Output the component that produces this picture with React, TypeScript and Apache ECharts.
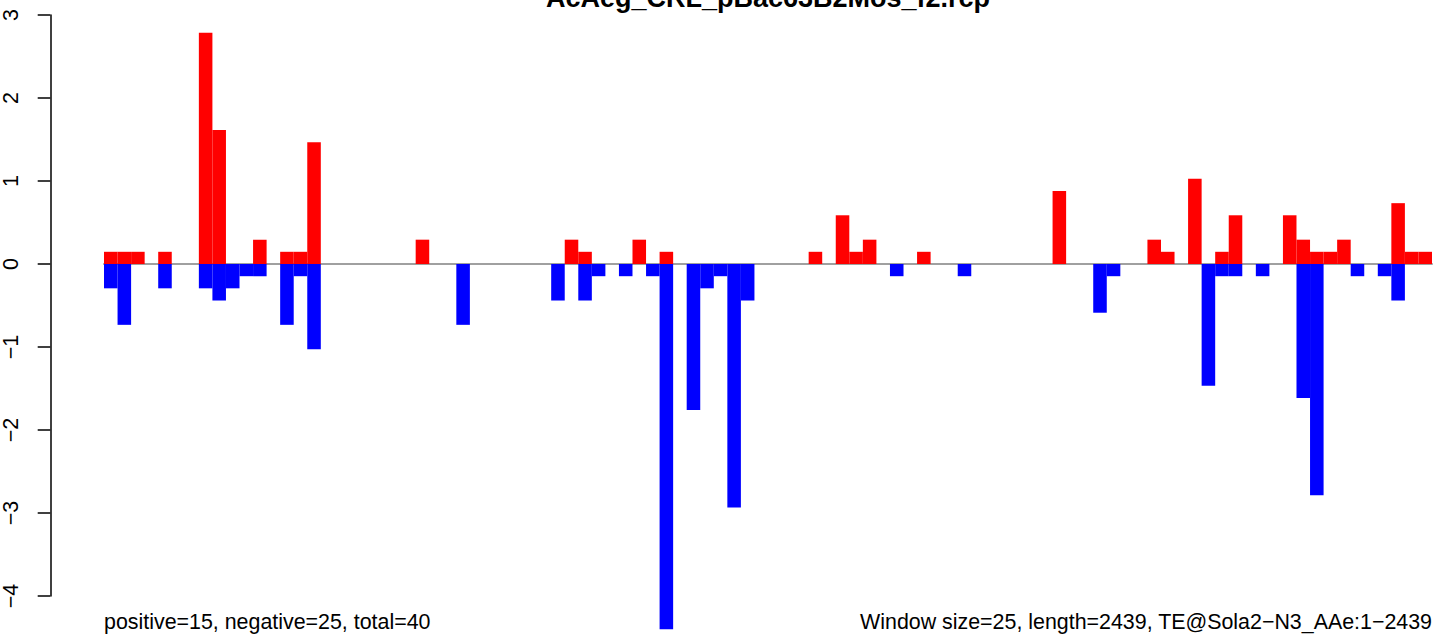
import React, { useEffect, useRef } from "react";
import * as echarts from "echarts";

// Window index categories (98 windows of 25 bp over length 2439)
const windows: string[] = Array.from({ length: 98 }, (_, i) => String(i + 1));

// Positive-strand values per window
const positiveValues: number[] = [
  0.147, 0.147, 0.147, 0, 0.147, 0, 0, 2.787, 1.613, 0,
  0, 0.293, 0, 0.147, 0.147, 1.467, 0, 0, 0, 0,
  0, 0, 0, 0.293, 0, 0, 0, 0, 0, 0,
  0, 0, 0, 0, 0.293, 0.147, 0, 0, 0, 0.293,
  0, 0.147, 0, 0, 0, 0, 0, 0, 0, 0,
  0, 0, 0.147, 0, 0.587, 0.147, 0.293, 0, 0, 0,
  0.147, 0, 0, 0, 0, 0, 0, 0, 0, 0,
  0.88, 0, 0, 0, 0, 0, 0, 0.293, 0.147, 0,
  1.027, 0, 0.147, 0.587, 0, 0, 0, 0.587, 0.293, 0.147,
  0.147, 0.293, 0, 0, 0, 0.733, 0.147, 0.147,
];

// Negative-strand values per window
const negativeValues: number[] = [
  -0.293, -0.733, 0, 0, -0.293, 0, 0, -0.293, -0.44, -0.293,
  -0.147, -0.147, 0, -0.733, -0.147, -1.027, 0, 0, 0, 0,
  0, 0, 0, 0, 0, 0, -0.733, 0, 0, 0,
  0, 0, 0, -0.44, 0, -0.44, -0.147, 0, -0.147, 0,
  -0.147, -4.4, 0, -1.76, -0.293, -0.147, -2.933, -0.44, 0, 0,
  0, 0, 0, 0, 0, 0, 0, 0, -0.147, 0,
  0, 0, 0, -0.147, 0, 0, 0, 0, 0, 0,
  0, 0, 0, -0.587, -0.147, 0, 0, 0, 0, 0,
  0, -1.467, -0.147, -0.147, 0, -0.147, 0, 0, -1.613, -2.787,
  0, 0, -0.147, 0, -0.147, -0.44, 0, 0,
];

const yTicks = { min: -4, max: 3, interval: 1 };

const titleText = "AcAeg_CRL_pBac63B2Mos_f2.rcp";
const leftNote = "positive=15, negative=25, total=40";
const rightNote = "Window size=25, length=2439, TE@Sola2\u2212N3_AAe:1\u22122439";

const FONT = "'Liberation Sans', Arial, Helvetica, sans-serif";

export default function App() {
  const ref = useRef<HTMLDivElement>(null);

  useEffect(() => {
    if (!ref.current) return;
    const chart = echarts.init(ref.current, undefined, { renderer: "svg" });
    chart.setOption({
      animation: false,
      backgroundColor: "#ffffff",
      grid: { left: 104, right: 20, top: 15, bottom: 45, containLabel: false },
      xAxis: {
        type: "category",
        data: windows,
        boundaryGap: true,
        axisLine: { show: true, onZero: true, lineStyle: { color: "#a0a0a0", width: 2 } },
        axisTick: { show: false },
        axisLabel: { show: false },
        splitLine: { show: false },
      },
      yAxis: {
        type: "value",
        min: yTicks.min,
        max: yTicks.max,
        interval: yTicks.interval,
        offset: 53.7,
        axisLine: { show: true, onZero: false, lineStyle: { color: "#000", width: 1.5 } },
        axisTick: { show: true, length: 12.6, lineStyle: { color: "#000", width: 1.5 } },
        axisLabel: {
          show: true,
          rotate: 90,
          margin: 28,
          fontSize: 21.5,
          fontFamily: FONT,
          color: "#000",
          formatter: (v: number) => (v < 0 ? "\u2212" + Math.abs(v) : String(v)),
        },
        splitLine: { show: false },
      },
      series: [
        {
          type: "bar",
          name: "positive",
          data: positiveValues,
          barWidth: "100%",
          barGap: "-100%",
          itemStyle: { color: "#ff0000" },
          clip: false,
        },
        {
          type: "bar",
          name: "negative",
          data: negativeValues,
          barWidth: "100%",
          barGap: "-100%",
          itemStyle: { color: "#0000ff" },
          clip: false,
        },
      ],
      graphic: [
        {
          type: "text",
          x: 768,
          y: -2,
          style: {
            text: titleText,
            fontSize: 27,
            fontWeight: "bold",
            fontFamily: FONT,
            fill: "#000",
            align: "center",
            verticalAlign: "middle",
            textAlign: "center",
            textVerticalAlign: "middle",
          },
        },
        {
          type: "text",
          x: 104,
          y: 622,
          style: {
            text: leftNote,
            fontSize: 21.4,
            fontFamily: FONT,
            fill: "#000",
            align: "left",
            verticalAlign: "middle",
            textAlign: "left",
            textVerticalAlign: "middle",
          },
        },
        {
          type: "text",
          x: 1432,
          y: 622,
          style: {
            text: rightNote,
            fontSize: 21.4,
            fontFamily: FONT,
            fill: "#000",
            align: "right",
            verticalAlign: "middle",
            textAlign: "right",
            textVerticalAlign: "middle",
          },
        },
      ],
    });
    return () => chart.dispose();
  }, []);

  return (
    <div
      ref={ref}
      style={{ position: "absolute", left: 0, top: 0, width: 1452, height: 641 }}
    />
  );
}
